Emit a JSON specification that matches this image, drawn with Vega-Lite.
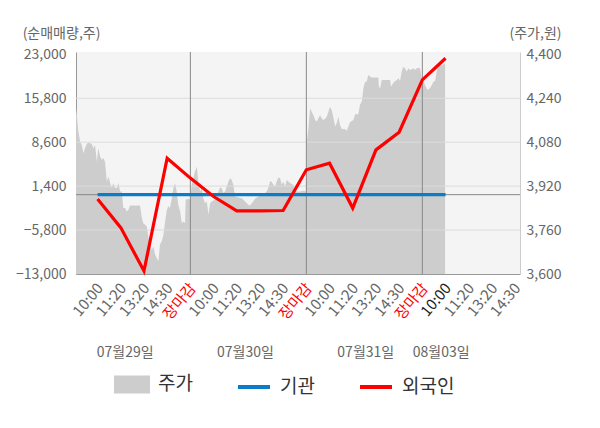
{
  "$schema": "https://vega.github.io/schema/vega-lite/v6.json",
  "width": 444,
  "height": 222,
  "autosize": "none",
  "padding": {"left": 76, "top": 52, "right": 80, "bottom": 154},
  "background": "white",
  "config": {
    "font": "Noto Sans CJK KR",
    "view": {"fill": "#f4f4f4", "stroke": null},
    "axis": {
      "labelFont": "Noto Sans CJK KR",
      "titleFont": "Noto Sans CJK KR",
      "labelFontSize": 14,
      "labelColor": "#666666",
      "titleColor": "#666666",
      "titleFontSize": 14,
      "titleFontWeight": "normal",
      "grid": false,
      "ticks": false
    },
    "legend": {"labelFont": "Noto Sans CJK KR"}
  },
  "datasets": {
    "price": [
      {"t": 0.07, "p": 4204}, {"t": 0.10, "p": 4185}, {"t": 0.17, "p": 4119}, {"t": 0.25, "p": 4082},
      {"t": 0.32, "p": 4070}, {"t": 0.39, "p": 4040}, {"t": 0.46, "p": 4058}, {"t": 0.53, "p": 4073},
      {"t": 0.60, "p": 4079}, {"t": 0.68, "p": 4076}, {"t": 0.75, "p": 4073}, {"t": 0.82, "p": 4058},
      {"t": 0.89, "p": 4070}, {"t": 0.97, "p": 4009}, {"t": 1.03, "p": 4058}, {"t": 1.11, "p": 4028},
      {"t": 1.18, "p": 4016}, {"t": 1.25, "p": 4022}, {"t": 1.32, "p": 4009}, {"t": 1.40, "p": 3937},
      {"t": 1.47, "p": 3955}, {"t": 1.54, "p": 3931}, {"t": 1.61, "p": 3913}, {"t": 1.68, "p": 3931},
      {"t": 1.75, "p": 3913}, {"t": 1.83, "p": 3913}, {"t": 1.90, "p": 3931}, {"t": 1.97, "p": 3900},
      {"t": 2.04, "p": 3900}, {"t": 2.11, "p": 3840}, {"t": 2.19, "p": 3840}, {"t": 2.26, "p": 3828},
      {"t": 2.33, "p": 3834}, {"t": 2.40, "p": 3849}, {"t": 2.83, "p": 3849}, {"t": 2.91, "p": 3804},
      {"t": 2.97, "p": 3785}, {"t": 3.05, "p": 3779}, {"t": 3.12, "p": 3773}, {"t": 3.19, "p": 3737},
      {"t": 3.26, "p": 3707}, {"t": 3.34, "p": 3688}, {"t": 3.41, "p": 3700}, {"t": 3.48, "p": 3670},
      {"t": 3.55, "p": 3658}, {"t": 3.62, "p": 3646}, {"t": 3.69, "p": 3707}, {"t": 3.77, "p": 3719},
      {"t": 3.84, "p": 3743}, {"t": 3.91, "p": 3790}, {"t": 3.98, "p": 3830}, {"t": 4.05, "p": 3848},
      {"t": 4.12, "p": 3840}, {"t": 4.20, "p": 3876}, {"t": 4.27, "p": 3913}, {"t": 4.34, "p": 3931},
      {"t": 4.41, "p": 3900}, {"t": 4.48, "p": 3852}, {"t": 4.56, "p": 3828}, {"t": 4.63, "p": 3785},
      {"t": 4.70, "p": 3791}, {"t": 4.77, "p": 3785}, {"t": 4.80, "p": 3870}, {"t": 4.91, "p": 3874},
      {"t": 4.99, "p": 3870}, {"t": 5.06, "p": 3925}, {"t": 5.13, "p": 3949}, {"t": 5.20, "p": 3973},
      {"t": 5.28, "p": 3991}, {"t": 5.34, "p": 3937}, {"t": 5.42, "p": 3900}, {"t": 5.49, "p": 3913},
      {"t": 5.56, "p": 3876}, {"t": 5.63, "p": 3858}, {"t": 5.71, "p": 3864}, {"t": 5.78, "p": 3816},
      {"t": 5.85, "p": 3858}, {"t": 5.92, "p": 3864}, {"t": 6.06, "p": 3870}, {"t": 6.14, "p": 3882},
      {"t": 6.21, "p": 3900}, {"t": 6.28, "p": 3915}, {"t": 6.35, "p": 3913}, {"t": 6.42, "p": 3895},
      {"t": 6.50, "p": 3900}, {"t": 6.57, "p": 3919}, {"t": 6.64, "p": 3937}, {"t": 6.71, "p": 3949},
      {"t": 6.78, "p": 3943}, {"t": 6.85, "p": 3925}, {"t": 6.93, "p": 3882}, {"t": 7.07, "p": 3879},
      {"t": 7.22, "p": 3876}, {"t": 7.36, "p": 3864}, {"t": 7.50, "p": 3852}, {"t": 7.57, "p": 3849},
      {"t": 7.65, "p": 3858}, {"t": 7.79, "p": 3874}, {"t": 7.93, "p": 3882}, {"t": 8.08, "p": 3888},
      {"t": 8.22, "p": 3895}, {"t": 8.29, "p": 3900}, {"t": 8.36, "p": 3913}, {"t": 8.44, "p": 3939},
      {"t": 8.51, "p": 3935}, {"t": 8.58, "p": 3925}, {"t": 8.65, "p": 3919}, {"t": 8.72, "p": 3937},
      {"t": 8.79, "p": 3951}, {"t": 8.87, "p": 3949}, {"t": 8.94, "p": 3925}, {"t": 9.01, "p": 3937},
      {"t": 9.08, "p": 3919}, {"t": 9.16, "p": 3943}, {"t": 9.22, "p": 3937}, {"t": 9.30, "p": 3931},
      {"t": 9.37, "p": 3927}, {"t": 9.44, "p": 3925}, {"t": 9.51, "p": 3907}, {"t": 9.59, "p": 3900},
      {"t": 9.73, "p": 3900}, {"t": 9.87, "p": 3903}, {"t": 9.99, "p": 3900}, {"t": 10.02, "p": 4082},
      {"t": 10.09, "p": 4131}, {"t": 10.16, "p": 4204}, {"t": 10.23, "p": 4191}, {"t": 10.30, "p": 4179},
      {"t": 10.38, "p": 4161}, {"t": 10.45, "p": 4155}, {"t": 10.52, "p": 4167}, {"t": 10.59, "p": 4179},
      {"t": 10.66, "p": 4167}, {"t": 10.73, "p": 4161}, {"t": 10.81, "p": 4165}, {"t": 10.88, "p": 4173},
      {"t": 10.95, "p": 4191}, {"t": 11.02, "p": 4209}, {"t": 11.09, "p": 4197}, {"t": 11.16, "p": 4173},
      {"t": 11.24, "p": 4137}, {"t": 11.31, "p": 4149}, {"t": 11.38, "p": 4173}, {"t": 11.45, "p": 4143},
      {"t": 11.53, "p": 4128}, {"t": 11.67, "p": 4128}, {"t": 11.74, "p": 4121}, {"t": 11.81, "p": 4137},
      {"t": 11.88, "p": 4153}, {"t": 12.03, "p": 4161}, {"t": 12.10, "p": 4182}, {"t": 12.17, "p": 4182},
      {"t": 12.24, "p": 4182}, {"t": 12.31, "p": 4216}, {"t": 12.39, "p": 4228}, {"t": 12.46, "p": 4276},
      {"t": 12.53, "p": 4300}, {"t": 12.60, "p": 4300}, {"t": 12.67, "p": 4325}, {"t": 12.75, "p": 4319},
      {"t": 12.82, "p": 4316}, {"t": 13.10, "p": 4316}, {"t": 13.13, "p": 4282}, {"t": 13.18, "p": 4276},
      {"t": 13.25, "p": 4306}, {"t": 13.61, "p": 4306}, {"t": 13.65, "p": 4282}, {"t": 13.71, "p": 4291},
      {"t": 13.79, "p": 4300}, {"t": 13.90, "p": 4306}, {"t": 13.97, "p": 4313}, {"t": 14.04, "p": 4303},
      {"t": 14.11, "p": 4337}, {"t": 14.18, "p": 4355}, {"t": 14.25, "p": 4349}, {"t": 14.33, "p": 4337},
      {"t": 14.40, "p": 4349}, {"t": 14.47, "p": 4343}, {"t": 14.54, "p": 4346}, {"t": 14.61, "p": 4349},
      {"t": 14.68, "p": 4343}, {"t": 14.76, "p": 4349}, {"t": 14.83, "p": 4351}, {"t": 14.90, "p": 4349},
      {"t": 14.97, "p": 4313}, {"t": 15.04, "p": 4303}, {"t": 15.15, "p": 4282}, {"t": 15.23, "p": 4270},
      {"t": 15.33, "p": 4276}, {"t": 15.41, "p": 4288}, {"t": 15.48, "p": 4300}, {"t": 15.55, "p": 4303},
      {"t": 15.62, "p": 4337}, {"t": 15.69, "p": 4355}, {"t": 15.76, "p": 4361}, {"t": 15.83, "p": 4358},
      {"t": 15.91, "p": 4364}, {"t": 15.98, "p": 4367}
    ],
    "flow": [
      {"t": 1, "series": "기관", "v": 0}, {"t": 2, "series": "기관", "v": 0},
      {"t": 3, "series": "기관", "v": 0}, {"t": 4, "series": "기관", "v": 0},
      {"t": 5, "series": "기관", "v": 0}, {"t": 6, "series": "기관", "v": 0},
      {"t": 7, "series": "기관", "v": 0}, {"t": 8, "series": "기관", "v": 0},
      {"t": 9, "series": "기관", "v": 0}, {"t": 10, "series": "기관", "v": 0},
      {"t": 11, "series": "기관", "v": 0}, {"t": 12, "series": "기관", "v": 0},
      {"t": 13, "series": "기관", "v": 0}, {"t": 14, "series": "기관", "v": 0},
      {"t": 15, "series": "기관", "v": 0}, {"t": 16, "series": "기관", "v": 0},
      {"t": 1, "series": "외국인", "v": -700}, {"t": 2, "series": "외국인", "v": -5400},
      {"t": 3, "series": "외국인", "v": -12500}, {"t": 4, "series": "외국인", "v": 5980},
      {"t": 5, "series": "외국인", "v": 2710}, {"t": 6, "series": "외국인", "v": -300},
      {"t": 7, "series": "외국인", "v": -2640}, {"t": 8, "series": "외국인", "v": -2640},
      {"t": 9, "series": "외국인", "v": -2600}, {"t": 10, "series": "외국인", "v": 4070},
      {"t": 11, "series": "외국인", "v": 5160}, {"t": 12, "series": "외국인", "v": -2200},
      {"t": 13, "series": "외국인", "v": 7340}, {"t": 14, "series": "외국인", "v": 10240},
      {"t": 15, "series": "외국인", "v": 18800}, {"t": 16, "series": "외국인", "v": 22350}
    ],
    "grid": [{"g": -5800}, {"g": 1400}, {"g": 8600}, {"g": 15800}],
    "days": [{"d": 5}, {"d": 10}, {"d": 15}]
  },
  "layer": [
    {
      "data": {"name": "price"},
      "mark": {"type": "area", "color": "#cdcdcd", "interpolate": "linear"},
      "encoding": {
        "x": {
          "field": "t", "type": "quantitative",
          "scale": {"domain": [0.07, 19.21], "nice": false, "zero": false},
          "axis": {
            "orient": "bottom", "title": null, "values": [1, 2, 3, 4, 5, 6, 7, 8, 9, 10, 11, 12, 13, 14, 15, 16, 17, 18, 19],
            "labelExpr": "['장마감', '10:00', '11:20', '13:20', '14:30'][datum.value % 5]",
            "labelAngle": -50, "labelAlign": "right", "labelBaseline": "middle", "labelFontSize": 15,
            "labelPadding": 11, "labelOffset": 2, "domain": true, "domainColor": "#999999", "labelOverlap": false,
            "labelColor": {"expr": "datum.value % 5 === 0 ? '#ff0000' : (datum.value === 16 ? '#222222' : '#666666')"}
          }
        },
        "y": {
          "field": "p", "type": "quantitative",
          "scale": {"domain": [3600, 4408.4], "nice": false, "zero": false},
          "axis": {
            "orient": "right", "values": [3600, 3760, 3920, 4080, 4240, 4400], "format": ",d",
            "labelPadding": 6, "domainColor": "#cccccc",
            "title": "(주가,원)", "titleAngle": 0, "titleAlign": "center", "titleBaseline": "middle",
            "titleX": 15, "titleY": -19
          }
        },
        "y2": {"datum": 3600},
        "color": {"datum": "주가", "type": "nominal"}
      }
    },
    {
      "layer": [
        {
          "data": {"name": "grid"},
          "mark": {"type": "rule", "color": "#dcdcdc", "strokeWidth": 1},
          "encoding": {
            "y": {"field": "g", "type": "quantitative", "scale": {"domain": [-13000, 23377], "nice": false, "zero": false}}
          }
        },
        {
          "data": {"values": [{"z": 0}]},
          "mark": {"type": "rule", "color": "#888888", "strokeWidth": 1},
          "encoding": {
            "y": {"field": "z", "type": "quantitative", "scale": {"domain": [-13000, 23377], "nice": false, "zero": false}}
          }
        },
        {
          "data": {"name": "days"},
          "mark": {"type": "rule", "color": "#888888", "strokeWidth": 1},
          "encoding": {
            "x": {
              "field": "d", "type": "quantitative",
              "scale": {"domain": [0.07, 19.21], "nice": false, "zero": false},
              "axis": {
                "orient": "bottom", "title": null, "values": [2.17, 7.35, 12.54, 15.79],
                "labelExpr": "datum.value < 5 ? '07월29일' : datum.value < 10 ? '07월30일' : datum.value < 15 ? '07월31일' : '08월03일'",
                "labelAngle": 0, "labelAlign": "center", "labelBaseline": "top",
                "labelPadding": 71, "domain": false, "ticks": false, "tickSize": 0, "labelOverlap": false
              }
            }
          }
        },
        {
          "data": {"name": "flow"},
          "mark": {"type": "line", "strokeWidth": 3.2},
          "encoding": {
            "x": {"field": "t", "type": "quantitative", "scale": {"domain": [0.07, 19.21], "nice": false, "zero": false}},
            "y": {
              "field": "v", "type": "quantitative",
              "scale": {"domain": [-13000, 23377], "nice": false, "zero": false},
              "axis": {
                "orient": "left", "values": [-13000, -5800, 1400, 8600, 15800, 23000], "format": ",d",
                "labelPadding": 10, "domainColor": "#999999",
                "title": "(순매매량,주)", "titleAngle": 0, "titleAlign": "center", "titleBaseline": "middle",
                "titleX": -15, "titleY": -19
              }
            },
            "color": {
              "field": "series", "type": "nominal",
              "scale": {"domain": ["주가", "기관", "외국인"], "range": ["#cdcdcd", "#0a7cc8", "#ff0000"]},
              "legend": {
                "title": null, "orient": "none", "direction": "horizontal",
                "legendX": 38, "legendY": 314, "padding": 0,
                "symbolType": "stroke", "symbolSize": 1024,
                "labelFontSize": 19, "labelColor": "#333333", "labelOffset": 8,
                "columnPadding": 37,
                "encode": {
                  "symbols": {
                    "update": {
                      "shape": {"signal": "datum.value === '주가' ? 'M-1,-0.44H1V0.44H-1Z' : 'stroke'"},
                      "fill": {"signal": "datum.value === '주가' ? '#cdcdcd' : 'transparent'"},
                      "stroke": {"signal": "datum.value === '주가' ? 'transparent' : scale('color', datum.value)"},
                      "strokeWidth": {"value": 4},
                      "opacity": {"value": 1}
                    }
                  }
                }
              }
            }
          }
        }
      ]
    }
  ],
  "resolve": {"scale": {"y": "independent"}, "axis": {"x": "independent", "y": "independent"}}
}
